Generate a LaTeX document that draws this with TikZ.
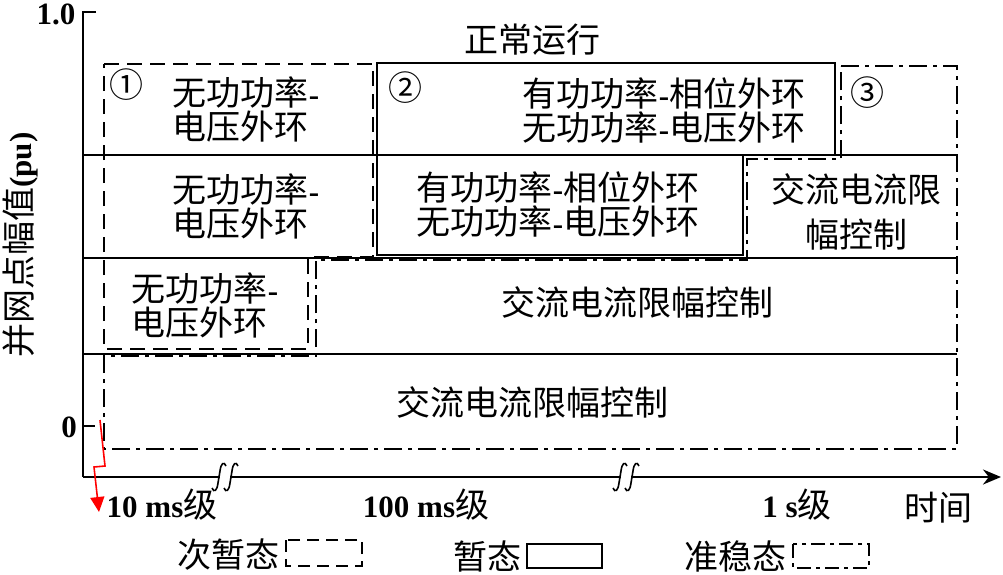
\documentclass[tikz,border=0pt]{standalone}
\usepackage{fontspec}
\setmainfont{Liberation Serif}
\newfontfamily\cjk{Noto Sans CJK SC}
\usetikzlibrary{arrows.meta}
\newcommand{\zh}[1]{{\cjk #1}}
\newcommand{\lt}[1]{{\fontsize{31}{31}\selectfont\bfseries #1}}
\begin{document}
\begin{tikzpicture}[x=1pt,y=-1pt,
  every node/.style={inner sep=0pt, outer sep=0pt, font=\fontsize{34}{34}\selectfont},
  lat/.style={font=\fontsize{31}{31}\selectfont\bfseries},
  rowline/.style={line width=2pt},
  axisline/.style={line width=2.4pt},
  subtr/.style={line width=1.8pt, dash pattern=on 15pt off 8pt},
  trans/.style={line width=1.8pt},
  quasi/.style={line width=1.8pt, dash pattern=on 18pt off 6pt on 4pt off 6pt},
  redarrow/.style={red, line width=1.6pt, -{Triangle[length=15pt,width=14pt]}},
  brk/.style={line width=1.6pt},
]
\useasboundingbox (0,0) rectangle (1003,574);

% axes
\coordinate (O) at (83,477);
\coordinate (Ytop) at (83,12);
\coordinate (Ytick) at (96,12);
\coordinate (Zl) at (83,426);
\coordinate (Zr) at (95,426);
\coordinate (Xend) at (1001,477);
\draw[axisline] (Ytick) -- (Ytop) -- (O);
\draw[axisline, -{Stealth[length=18pt,width=15pt]}] (O) -- (Xend);
\draw[line width=2pt] (Zl) -- (Zr);

% axis breaks
\foreach \c in {225,626}{
  \fill[white] (\c-5,472) rectangle (\c+5,482);
  \foreach \a in {-6,6}{
    \draw[brk] (\c+\a-7,488) .. controls (\c+\a-5,493) and (\c+\a-2,491) .. (\c+\a-1,483)
      -- (\c+\a+1,471) .. controls (\c+\a+2,463) and (\c+\a+5,461) .. (\c+\a+7,466);
  }
}

% row lines
\draw[rowline] (83,155) -- (957,155);
\draw[rowline] (83,258) -- (957,258);
\draw[rowline] (83,354) -- (957,354);

% regions
\draw[subtr] (104,64) -- (373,64) -- (373,257) -- (308,257) -- (308,349) -- (104,349) -- cycle;
\draw[trans] (377,63) -- (835,63) -- (835,155) -- (743,155) -- (743,255) -- (377,255) -- cycle;
\draw[quasi] (841,66) -- (957,66) -- (957,449) -- (104,449) -- (104,356) -- (316,356)
  -- (316,260) -- (747,260) -- (747,159) -- (841,159) -- cycle;

% texts
\node (normal) at (532,40) {\zh{正常运行}};
\node (c1) at (126,85) {\zh{①}};
\node (c2) at (405,88) {\zh{②}};
\node (c3) at (867,93) {\zh{③}};
\node[align=left] (r1a) at (246,109) {\zh{无功功率}\lt{-}\\\zh{电压外环}};
\node[align=left] (r2a) at (246,206) {\zh{无功功率}\lt{-}\\\zh{电压外环}};
\node[align=left] (r3a) at (205,305) {\zh{无功功率}\lt{-}\\\zh{电压外环}};
\node[align=center] (r1b) at (664,110) {\zh{有功功率}\lt{-}\zh{相位外环}\\\zh{无功功率}\lt{-}\zh{电压外环}};
\node[align=center] (r2b) at (558,204) {\zh{有功功率}\lt{-}\zh{相位外环}\\\zh{无功功率}\lt{-}\zh{电压外环}};
\node[align=center] (r2c) at (856,212) {\zh{交流电流限}\\[11pt]\zh{幅控制}};
\node (r3b) at (637,302) {\zh{交流电流限幅控制}};
\node (r4) at (532,402) {\zh{交流电流限幅控制}};

% axis labels
\node[lat] (one) at (56,14) {1.0};
\node[lat] (zero) at (69,427) {0};
\node[rotate=90] (ylab) at (20,245) {\zh{并网点幅值}\lt{(pu)}};
\node (t10) at (162,505) {\lt{10 ms}\zh{级}};
\node (t100) at (426,505) {\lt{100 ms}\zh{级}};
\node (t1s) at (797,505) {\lt{1 s}\zh{级}};
\node (time) at (938,508) {\zh{时间}};

% red arrow
\coordinate (r0) at (100,420);
\coordinate (rA) at (105,466);
\coordinate (rB) at (94,467);
\coordinate (rC) at (99,512);
\draw[redarrow] (r0) -- (rA) -- (rB) -- (rC);

% legend
\node (lg1) at (228,555) {\zh{次暂态}};
\draw[subtr, line width=1.6pt, dash pattern=on 12pt off 7pt] (286,540) rectangle (362,566);
\node (lg2) at (487,556) {\zh{暂态}};
\draw[trans, line width=1.6pt] (527,544) rectangle (602,568);
\node (lg3) at (735,556) {\zh{准稳态}};
\draw[quasi, line width=1.6pt, dash pattern=on 14pt off 5pt on 4pt off 5pt] (793,544) rectangle (869,568);
\end{tikzpicture}
\end{document}
